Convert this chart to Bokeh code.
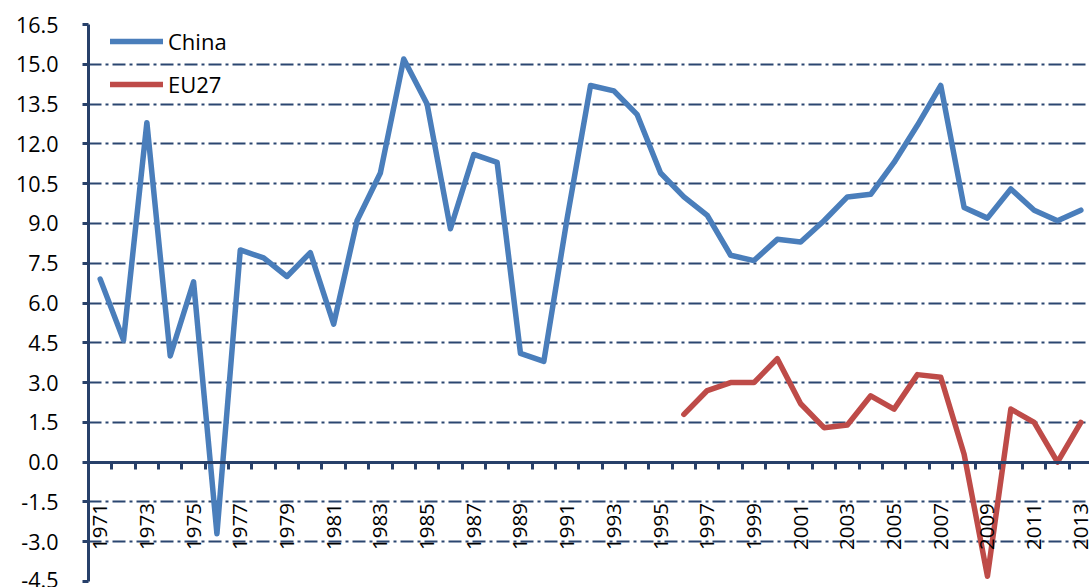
import math
from bokeh.plotting import figure
from bokeh.models import LinearAxis, FixedTicker, NumeralTickFormatter, Legend, LegendItem, Range1d
from bokeh.embed import file_html
from bokeh.resources import INLINE

years = list(range(1971, 2014))
china = [6.9, 4.6, 12.8, 4.0, 6.8, -2.7, 8.0, 7.7, 7.0, 7.9,
         5.2, 9.1, 10.9, 15.2, 13.5, 8.8, 11.6, 11.3, 4.1, 3.8,
         9.2, 14.2, 14.0, 13.1, 10.9, 10.0, 9.3, 7.8, 7.6, 8.4,
         8.3, 9.1, 10.0, 10.1, 11.3, 12.7, 14.2, 9.6, 9.2, 10.3,
         9.5, 9.1, 9.5]
eu_years = list(range(1996, 2014))
eu27 = [1.8, 2.7, 3.0, 3.0, 3.9, 2.2, 1.3, 1.4, 2.5, 2.0,
        3.3, 3.2, 0.3, -4.3, 2.0, 1.5, 0.0, 1.5]
y_ticks = [-4.5, -3.0, -1.5, 0.0, 1.5, 3.0, 4.5, 6.0, 7.5, 9.0, 10.5, 12.0, 13.5, 15.0, 16.5]
x_label_years = years[::2]
x_tick_edges = [y - 0.5 for y in years] + [years[-1] + 0.5]

AXIS = "#27406A"
GRID = "#2B4670"
FONT = "Open Sans"

p = figure(width=1089, height=587, output_backend="svg", toolbar_location=None,
           x_range=Range1d(1970.5, 2013.37), y_range=Range1d(-4.5, 16.5),
           x_axis_location=None, min_border_left=88, min_border_right=0,
           min_border_top=24, min_border_bottom=6)
p.outline_line_color = None
p.background_fill_color = "white"
p.border_fill_color = "white"

# y axis
ya = p.yaxis[0]
ya.ticker = FixedTicker(ticks=y_ticks)
ya.formatter = NumeralTickFormatter(format="0.0")
ya.axis_line_color = AXIS
ya.axis_line_width = 3
ya.major_tick_line_color = AXIS
ya.major_tick_line_width = 3
ya.major_tick_out = 6
ya.major_tick_in = 0
ya.minor_tick_line_color = None
ya.major_label_standoff = 24
ya.major_label_text_font = FONT
ya.major_label_text_font_size = "21.5px"
ya.major_label_text_color = "black"

p.ygrid.ticker = FixedTicker(ticks=y_ticks)
p.ygrid.grid_line_color = GRID
p.ygrid.grid_line_width = 2
p.ygrid.grid_line_dash = "13 4 3 4"
p.xgrid.grid_line_color = None

# x axis at zero: labels at category centres, tick marks between categories
xa = LinearAxis(ticker=FixedTicker(ticks=x_label_years, minor_ticks=x_tick_edges),
                fixed_location=0,
                axis_line_color=AXIS, axis_line_width=3,
                major_tick_line_color=None, major_tick_out=7, major_tick_in=0,
                minor_tick_line_color=AXIS, minor_tick_line_width=3,
                minor_tick_out=7, minor_tick_in=0,
                major_label_standoff=34,
                major_label_orientation=math.pi / 2,
                major_label_text_font=FONT,
                major_label_text_font_size="20.5px",
                major_label_text_color="black")
p.add_layout(xa, "below")

r_china = p.line(years, china, line_color="#4A7EBB", line_width=5.5,
                 line_join="round", line_cap="round")
r_eu = p.line(eu_years, eu27, line_color="#BE4B48", line_width=5.5,
              line_join="round", line_cap="round")

legend = Legend(items=[LegendItem(label="China", renderers=[r_china]),
                       LegendItem(label="EU27", renderers=[r_eu])],
                location=(22, 482), padding=3, spacing=13,
                glyph_width=53, glyph_height=30, label_height=30,
                label_standoff=5, label_text_font=FONT,
                label_text_font_size="22px", label_text_color="black",
                border_line_color=None, background_fill_alpha=0)
p.add_layout(legend, "center")

open("out.html", "w").write(file_html(p, INLINE))
